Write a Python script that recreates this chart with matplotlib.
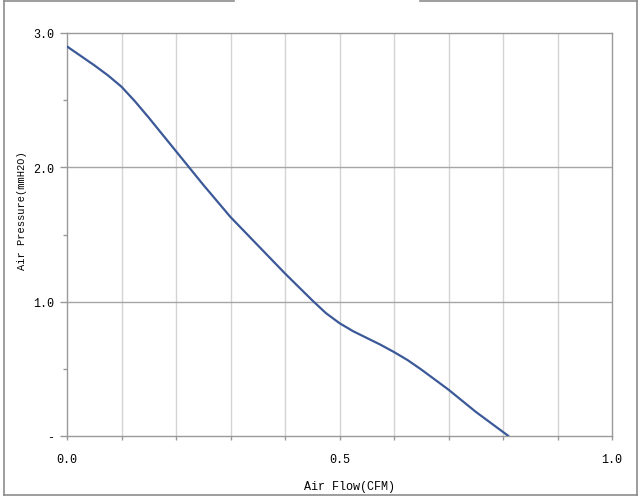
import numpy as np
import matplotlib
matplotlib.use("Agg")
import matplotlib.pyplot as plt
from matplotlib.lines import Line2D

# values
flow = [0.0, 0.025, 0.05, 0.075, 0.1, 0.125, 0.15, 0.175, 0.2, 0.25, 0.3, 0.35, 0.4,
        0.45, 0.475, 0.5, 0.525, 0.55, 0.575, 0.6, 0.625, 0.65, 0.7, 0.75, 0.81]
pressure = [2.90, 2.83, 2.76, 2.685, 2.60, 2.49, 2.37, 2.245, 2.12, 1.87, 1.63, 1.42, 1.21,
            1.01, 0.915, 0.84, 0.78, 0.73, 0.68, 0.625, 0.565, 0.495, 0.345, 0.18, 0.0]

x_ticks = [0.0, 0.5, 1.0]
x_tick_labels = ["0.0", "0.5", "1.0"]
y_ticks = [0.0, 1.0, 2.0, 3.0]
y_tick_labels = ["-", "1.0", "2.0", "3.0"]

font = "Liberation Mono"

fig = plt.figure(figsize=(6.43, 5.02), dpi=100)
ax = fig.add_axes([67 / 643, 1 - 437 / 502, 545 / 643, 403 / 502])

# vertical grid every 0.1, horizontal grid at the major y ticks
for gx in np.arange(1, 10) / 10:
    ax.axvline(gx, color="#d4d4d4", lw=1.0, zorder=1)
for gy in [1.0, 2.0]:
    ax.axhline(gy, color="#a6a6a6", lw=1.0, zorder=1)

ax.plot(flow, pressure, color="#3b5998", lw=1.6, zorder=3,
        solid_capstyle="round", solid_joinstyle="round")

ax.set_xlim(0, 1.0)
ax.set_ylim(0, 3.0)

ax.set_xticks(x_ticks)
ax.set_xticklabels(x_tick_labels, fontfamily=font, fontsize=8.5)
ax.set_xticks(np.arange(0, 11) / 10, minor=True)
ax.set_yticks(y_ticks)
ax.set_yticklabels(y_tick_labels, fontfamily=font, fontsize=8.5)
ax.set_yticks([0.5, 1.5, 2.5], minor=True)

ax.tick_params(axis="x", which="major", length=3, width=1, color="#999999", pad=9)
ax.tick_params(axis="x", which="minor", length=3, width=1, color="#999999")
ax.tick_params(axis="y", which="major", length=5, width=1, color="#999999", pad=4)
ax.tick_params(axis="y", which="minor", length=3, width=1, color="#999999")

for s in ax.spines.values():
    s.set_color("#999999")
    s.set_linewidth(1.0)

fig.text(350 / 643, 1 - 487 / 502, "Air Flow(CFM)", fontfamily=font, fontsize=8.5,
         ha="center", va="center")
fig.text(22 / 643, 1 - 211 / 502, "Air Pressure(mmH2O)", fontfamily=font, fontsize=7.5,
         rotation=90, ha="center", va="center")

# outer frame with a gap in the top edge
fx = lambda px: px / 643
fy = lambda py: 1 - py / 502
frame = "#8c8c8c"
fig.add_artist(Line2D([fx(4), fx(4)], [fy(2), fy(496)], color=frame, lw=1.2))
fig.add_artist(Line2D([fx(4), fx(637)], [fy(496), fy(496)], color=frame, lw=1.2))
fig.add_artist(Line2D([fx(637), fx(637)], [fy(2), fy(496)], color=frame, lw=1.2))
fig.add_artist(Line2D([fx(4), fx(234)], [fy(2), fy(2)], color=frame, lw=1.2))
fig.add_artist(Line2D([fx(420), fx(637)], [fy(2), fy(2)], color=frame, lw=1.2))

fig.savefig("out.png", dpi=100)
